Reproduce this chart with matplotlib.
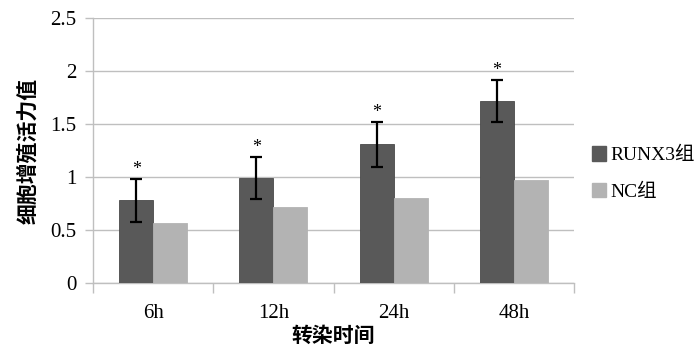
import matplotlib
matplotlib.use("Agg")
import matplotlib.pyplot as plt
import numpy as np
from matplotlib.patches import Patch

plt.rcParams['font.family'] = ['Liberation Serif', 'Noto Sans CJK SC']

categories = ['6h', '12h', '24h', '48h']
runx3 = [0.78, 0.99, 1.31, 1.72]
runx3_err = [0.20, 0.20, 0.21, 0.20]
nc = [0.57, 0.72, 0.80, 0.97]
ylabel = '细胞增殖活力值'
xlabel = '转染时间'
series_names = ['RUNX3组', 'NC组']

dark = '#595959'
light = '#b3b3b3'
grid_c = '#bfbfbf'

fig = plt.figure(figsize=(7.0, 3.47), dpi=100)
ax = fig.add_axes([0.133, 0.184, 0.687, 0.764])

x = np.arange(len(categories))
w = 0.283
ax.bar(x - w / 2, runx3, w, color=dark, edgecolor='#4a4a4a', linewidth=0.6, zorder=3)
ax.bar(x + w / 2, nc, w, color=light, edgecolor=light, linewidth=0.6, zorder=3)
ax.errorbar(x - w / 2, runx3, yerr=runx3_err, fmt='none', ecolor='black',
            elinewidth=1.6, capsize=4, capthick=1.6, zorder=4)
for xi, v, e in zip(x - w / 2, runx3, runx3_err):
    ax.text(xi, v + e + 0.09, '*', ha='center', va='center', fontsize=13, zorder=5)

ax.set_xlim(-0.5, len(categories) - 0.5)
ax.set_ylim(0, 2.5)
ax.set_yticks(np.arange(0, 2.51, 0.5))
ax.set_yticklabels(['0', '0.5', '1', '1.5', '2', '2.5'])
ax.yaxis.grid(True, color=grid_c, linewidth=1.0, zorder=0)
ax.set_axisbelow(True)

ax.set_xticks(x)
ax.set_xticklabels(categories)
ax.set_xticks(np.arange(-0.5, len(categories), 1.0), minor=True)
ax.tick_params(axis='x', which='major', length=0, pad=15, labelsize=15)
ax.tick_params(axis='x', which='minor', length=7, width=1, color=grid_c, direction='out')
ax.tick_params(axis='y', length=6, width=1, color=grid_c, labelsize=15, pad=6)

for s in ['top', 'right']:
    ax.spines[s].set_visible(False)
for s in ['left', 'bottom']:
    ax.spines[s].set_color(grid_c)
    ax.spines[s].set_linewidth(1.0)

ax.set_ylabel(ylabel, fontsize=15, fontweight='bold', labelpad=8)
ax.set_xlabel(xlabel, fontsize=15, fontweight='bold', labelpad=3)

handles = [Patch(facecolor=dark, edgecolor=dark), Patch(facecolor=light, edgecolor=light)]
fig.legend(handles, series_names, loc='center left', bbox_to_anchor=(0.82, 0.5),
           frameon=False, fontsize=14, handlelength=0.75, handleheight=0.75,
           handletextpad=0.2, labelspacing=0.95)

fig.savefig('out.png', dpi=100)
